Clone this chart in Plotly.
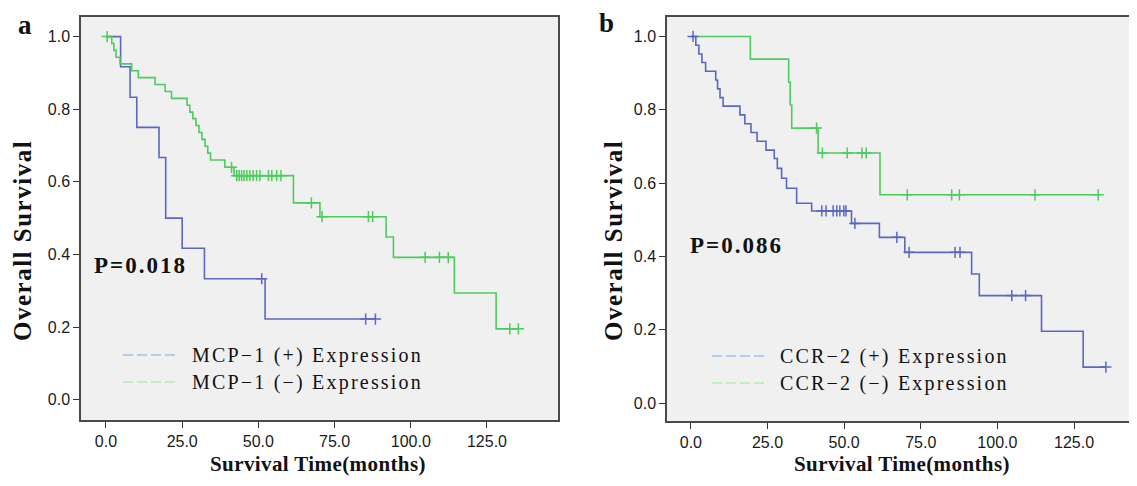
import plotly.graph_objects as go

# ---------------- data ----------------
x_tick_vals = [0, 25, 50, 75, 100, 125]
x_tick_text = ["0.0", "25.0", "50.0", "75.0", "100.0", "125.0"]
y_tick_vals = [0.0, 0.2, 0.4, 0.6, 0.8, 1.0]
y_tick_text = ["0.0", "0.2", "0.4", "0.6", "0.8", "1.0"]

# Panel a : MCP-1 (+)
a_pos_times = [4.8, 7.9, 10.1, 17.4, 19.6, 25.0, 32.3, 52.2]
a_pos_surv = [0.917, 0.833, 0.750, 0.667, 0.500, 0.417, 0.333, 0.222]
a_pos_censor = [51.1, 85.2, 88.4]
a_pos_end = 88.4

# Panel a : MCP-1 (-)
a_neg_times = [1.9, 2.6, 3.3, 4.6, 8.4, 10.6, 16.1, 19.4, 21.5, 26.6, 27.5, 28.5,
               29.5, 30.5, 31.5, 32.5, 33.4, 34.3, 39.0, 42.0, 61.5, 70.2, 91.9,
               94.3, 114.3, 128.0]
a_neg_surv = [0.981, 0.962, 0.943, 0.925, 0.906, 0.887, 0.868, 0.849, 0.830, 0.811,
              0.792, 0.774, 0.755, 0.736, 0.717, 0.698, 0.679, 0.660, 0.640, 0.617,
              0.542, 0.504, 0.448, 0.392, 0.294, 0.195]
a_neg_censor = [0.4, 41.2, 42.9, 43.7, 44.5, 45.3, 46.2, 47.2, 48.3, 49.4, 50.5,
                53.3, 54.4, 56.0, 57.4, 67.4, 70.9, 86.1, 87.5, 104.7, 109.4,
                112.3, 132.5, 135.3]
a_neg_end = 135.3

# Panel b : CCR-2 (+)
b_pos_times = [1.6, 2.6, 3.6, 4.8, 8.1, 8.7, 9.5, 10.5, 16.0, 17.6, 19.6, 21.6,
               24.5, 27.2, 28.2, 29.6, 31.2, 34.5, 39.4, 52.4, 61.5, 69.8, 91.6,
               94.1, 114.4, 128.0]
b_pos_surv = [0.976, 0.952, 0.929, 0.905, 0.881, 0.857, 0.833, 0.810, 0.786, 0.762,
              0.738, 0.714, 0.690, 0.667, 0.640, 0.613, 0.586, 0.545, 0.524, 0.490,
              0.452, 0.411, 0.352, 0.293, 0.196, 0.098]
b_pos_censor = [0.7, 42.7, 44.1, 46.4, 47.6, 48.6, 49.9, 50.6, 53.5, 67.2, 71.2,
                86.2, 87.8, 104.7, 109.2, 135.4]
b_pos_end = 135.4

# Panel b : CCR-2 (-)
b_neg_times = [19.4, 31.9, 32.4, 32.9, 41.5, 61.7]
b_neg_surv = [0.938, 0.875, 0.813, 0.750, 0.682, 0.568]
b_neg_censor = [41.0, 42.9, 51.0, 55.8, 57.2, 70.6, 85.1, 87.6, 112.3, 132.9]
b_neg_end = 132.9

# ---------------- styles ----------------
BLUE = "#5a68c4"
GREEN = "#4ccc5c"
LEG_BLUE = "#9cc3f4"
LEG_GREEN = "#aeeeb4"
OFF = 8                      # page body margin
W, H = 1137 - OFF, 486 - 2 * OFF


def P(px):
    return (px - OFF) / W


def Q(py):
    return 1 - (py - OFF) / H


def step_xy(times, surv, end):
    return [0.0] + list(times) + [end], [1.0] + list(surv) + [surv[-1]]


def level_at(t, times, surv):
    s = 1.0
    for ti, si in zip(times, surv):
        if ti <= t:
            s = si
    return s


fig = go.Figure()


def add_curve(times, surv, censor, end, color, xa, ya):
    xs, ys = step_xy(times, surv, end)
    fig.add_trace(go.Scatter(x=xs, y=ys, mode="lines", line=dict(color=color, width=1.6, shape="hv"),
                             xaxis=xa, yaxis=ya, showlegend=False, hoverinfo="skip"))
    fig.add_trace(go.Scatter(x=censor, y=[level_at(t, times, surv) for t in censor], mode="markers",
                             marker=dict(symbol="cross-thin", size=8, line=dict(color=color, width=1.5)),
                             xaxis=xa, yaxis=ya, showlegend=False, hoverinfo="skip"))


add_curve(a_pos_times, a_pos_surv, a_pos_censor, a_pos_end, BLUE, "x", "y")
add_curve(a_neg_times, a_neg_surv, a_neg_censor, a_neg_end, GREEN, "x", "y")
add_curve(b_neg_times, b_neg_surv, b_neg_censor, b_neg_end, GREEN, "x2", "y2")
add_curve(b_pos_times, b_pos_surv, b_pos_censor, b_pos_end, BLUE, "x2", "y2")

tickfont = dict(family="Liberation Sans", size=16, color="#1a1a1a")
common_ax = dict(showline=True, mirror=True, linecolor="#4a4a4a", linewidth=1.5, showgrid=False,
                 zeroline=False, ticks="outside", ticklen=6, tickwidth=1.3, tickcolor="#333",
                 tickfont=tickfont, automargin=False)

fig.update_layout(
    template="none",
    width=W, height=H, margin=dict(l=0, r=0, t=0, b=0, pad=0),
    paper_bgcolor="white", plot_bgcolor="#f0f0f0", showlegend=False,
    xaxis=dict(domain=[P(81), P(558)], range=[-8.2, 148.3], anchor="y",
               tickvals=x_tick_vals, ticktext=x_tick_text, **common_ax),
    yaxis=dict(domain=[Q(420), Q(17)], range=[-0.056, 1.054], anchor="x",
               tickvals=y_tick_vals, ticktext=y_tick_text, **common_ax),
    xaxis2=dict(domain=[P(667), P(1131)], range=[-7.8, 143.6], anchor="y2",
                tickvals=x_tick_vals, ticktext=x_tick_text, **common_ax),
    yaxis2=dict(domain=[Q(421), Q(17)], range=[-0.049, 1.053], anchor="x2",
                tickvals=y_tick_vals, ticktext=y_tick_text, **common_ax),
)

serif = "Liberation Serif"


def ann(text, px, py, size, bold=False, xanchor="center", yanchor="middle", angle=0, spacing=0):
    t = text
    if spacing:
        t = '<span style="letter-spacing:%spx">%s</span>' % (spacing, t)
    if bold:
        t = "<b>" + t + "</b>"
    fig.add_annotation(text=t, x=P(px), y=Q(py), xref="paper", yref="paper",
                       xanchor=xanchor, yanchor=yanchor, showarrow=False, textangle=angle,
                       font=dict(family=serif, size=size, color="#111"))


# panel letters
ann("a", 25, 8, 27, bold=True, yanchor="top")
ann("b", 606, 6.5, 27, bold=True, yanchor="top")
# axis titles
ann("Survival Time(months)", 318, 478, 21, bold=True, yanchor="bottom", spacing=0.4)
ann("Survival Time(months)", 902, 478, 21, bold=True, yanchor="bottom", spacing=0.4)
ann("Overall Survival", 22, 241, 25, bold=True, angle=-90, spacing=1.5)
ann("Overall Survival", 613, 241, 25, bold=True, angle=-90, spacing=1.5)
# p-values
ann("P=0.018", 92, 265, 23, bold=True, xanchor="left", spacing=2)
ann("P=0.086", 688, 246, 23, bold=True, xanchor="left", spacing=2)

# legends
legend_rows = [
    ("MCP\u22121 (+) Expression", LEG_BLUE, 123, 177, 190, 355),
    ("MCP\u22121 (\u2212) Expression", LEG_GREEN, 123, 177, 190, 382),
    ("CCR\u22122 (+) Expression", LEG_BLUE, 712, 767, 778, 356),
    ("CCR\u22122 (\u2212) Expression", LEG_GREEN, 712, 767, 778, 383),
]
for text, col, lx0, lx1, tx, ty in legend_rows:
    fig.add_shape(type="line", xref="paper", yref="paper", x0=P(lx0), x1=P(lx1),
                  y0=Q(ty), y1=Q(ty), line=dict(color=col, width=1.5, dash="10px,4px"))
    ann(text, tx, ty, 20, xanchor="left", spacing=2.2)

fig.write_html("out.html")
